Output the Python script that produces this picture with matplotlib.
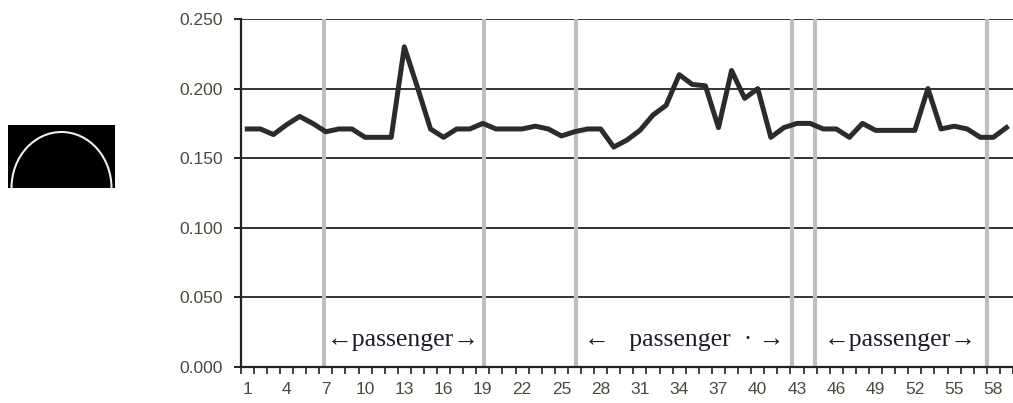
import numpy as np
import matplotlib.pyplot as plt
from matplotlib.patches import Arc

# one value per sample
samples = list(range(1, 60))
values = [0.171, 0.171, 0.167, 0.174, 0.180, 0.175, 0.169, 0.171, 0.171, 0.165,
          0.165, 0.165, 0.230, 0.201, 0.171, 0.165, 0.171, 0.171, 0.175, 0.171,
          0.171, 0.171, 0.173, 0.171, 0.166, 0.169, 0.171, 0.171, 0.158, 0.163,
          0.170, 0.181, 0.188, 0.210, 0.203, 0.202, 0.172, 0.213, 0.193, 0.200,
          0.165, 0.172, 0.175, 0.175, 0.171, 0.171, 0.165, 0.175, 0.170, 0.170,
          0.170, 0.170, 0.200, 0.171, 0.173, 0.171, 0.165, 0.165, 0.172]
# segment separators (in sample units)
separators = [6.85, 19.05, 26.1, 42.6, 44.4, 57.55]
segment_labels = ["\u2190passenger\u2192", "\u2190   passenger  \u00b7 \u2192", "\u2190passenger\u2192"]
segment_centers = [12.9, 34.4, 50.9]
tick_labels = [str(i) for i in range(1, 60, 3)]
y_ticks = [0.0, 0.05, 0.10, 0.15, 0.20, 0.25]

W, H = 1013, 403
fig = plt.figure(figsize=(W / 100, H / 100), dpi=100)
ax = fig.add_axes([240.7 / W, (H - 367) / H, 1 - 240.7 / W, 348 / H])

for yv in y_ticks[1:]:
    ax.axhline(yv, color="#333333", lw=1.4, zorder=1)
for xs in separators:
    ax.axvline(xs, color="#bfbfbf", lw=3.0, zorder=2)

ax.plot(samples, values, color="#2b2b2b", lw=3.6, solid_joinstyle="round", zorder=3)

for lab, cx in zip(segment_labels, segment_centers):
    ax.text(cx, 0.0195, lab, ha="center", va="center", fontsize=18.5,
            family=["Liberation Serif", "DejaVu Serif"], color="#1c1c2a", zorder=4)

ax.set_xlim(0.5, 59.05)
ax.set_ylim(0, 0.25)
ax.set_yticks(y_ticks)
ax.set_yticklabels([f"{v:.3f}" for v in y_ticks])
ax.set_xticks(range(1, 60, 3))
ax.set_xticklabels(tick_labels)
ax.set_xticks(np.arange(0.5, 59.6, 1), minor=True)
ax.tick_params(axis="x", which="major", length=0, pad=11)
ax.tick_params(axis="x", which="minor", length=5, width=1.2, direction="out", color="#222222")
ax.tick_params(axis="y", length=5, width=1.4, color="#222222", pad=8)
for lbl in ax.get_xticklabels() + ax.get_yticklabels():
    lbl.set_fontsize(12.5)
    lbl.set_family("Liberation Sans")
    lbl.set_color("#4a4a3c")
for s in ["top", "right"]:
    ax.spines[s].set_visible(False)
ax.spines["left"].set_linewidth(1.6)
ax.spines["bottom"].set_linewidth(1.6)
ax.spines["left"].set_color("#222222")
ax.spines["bottom"].set_color("#222222")

# small icon on the left
icon = fig.add_axes([8 / W, (H - 188) / H, 107 / W, 63 / H])
icon.set_facecolor("black")
icon.set_xlim(0, 107)
icon.set_ylim(0, 63)
icon.add_patch(Arc((53.5, 0), 100, 112, theta1=0, theta2=180, color="#eeeeee", lw=1.5))
icon.set_xticks([])
icon.set_yticks([])
for s in icon.spines.values():
    s.set_visible(False)

fig.savefig("out.png", dpi=100)
